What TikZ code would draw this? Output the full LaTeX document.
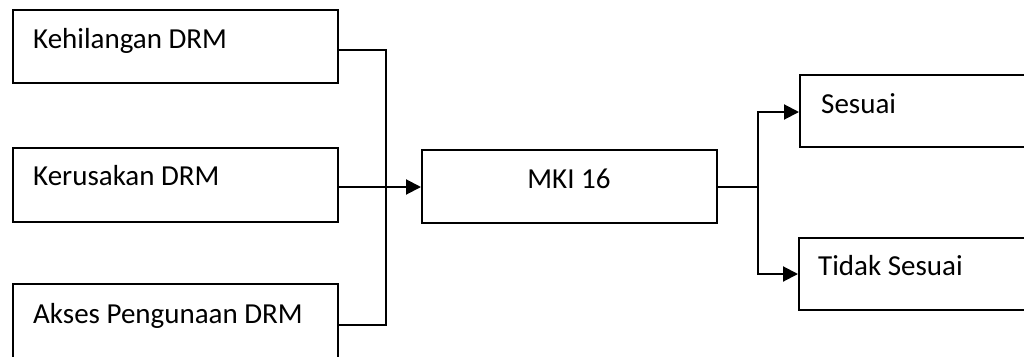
\documentclass[tikz,border=0pt]{standalone}
\usepackage{fontspec}
\setmainfont{Carlito}
\usetikzlibrary{arrows.meta}
\begin{document}
\begin{tikzpicture}[x=1pt,y=-1pt,
  box/.style={draw, line width=2pt, inner sep=0pt, anchor=north west},
  lbl/.style={anchor=base west, inner sep=0pt, font=\fontsize{29}{34}\selectfont},
  conn/.style={line width=2pt},
  arr/.style={line width=2pt, -{Triangle[length=15pt,width=15pt]}}]
\useasboundingbox (0,0) rectangle (1024,356);
\clip (0,0) rectangle (1024,356);
% boxes
\node[box, minimum width=325pt, minimum height=73pt] (b1) at (12,9) {};
\node[box, minimum width=325pt, minimum height=74pt] (b2) at (12,147) {};
\node[box, minimum width=325pt, minimum height=82pt] (b3) at (12,283) {};
\node[box, minimum width=295pt, minimum height=73pt] (m) at (421,149) {};
\node[box, minimum width=260pt, minimum height=72pt] (s) at (799,74) {};
\node[box, minimum width=260pt, minimum height=72pt] (t) at (798,237) {};
% labels
\node[lbl] (l1) at (33,48) {Kehilangan DRM};
\node[lbl] (l2) at (33,185) {Kerusakan DRM};
\node[lbl] (l3) at (33,323) {Akses Pengunaan DRM};
\node[anchor=base, inner sep=0pt, font=\fontsize{29}{34}\selectfont] (lm) at (569,188) {MKI 16};
\node[lbl] (ls) at (821,113) {Sesuai};
\node[lbl] (lt) at (818,275) {Tidak Sesuai};
% junctions
\coordinate (j1) at (386,187);
\coordinate (j2) at (758,187);
% connectors left
\draw[conn] ([yshift=-3.5pt]b1.east) -| (j1) |- (b3.east);
\draw[arr] (b2.east |- j1) -- (m.west |- j1);
% connectors right
\draw[conn] (m.east |- j2) -- (j2);
\draw[arr] (j2) |- ([yshift=-1pt]s.west);
\draw[arr] (j2) |- (t.west);
\end{tikzpicture}
\end{document}
